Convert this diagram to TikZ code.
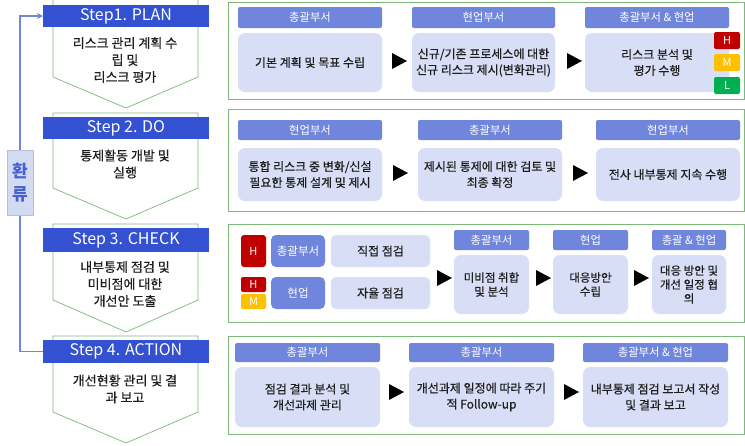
\documentclass[tikz,border=0pt]{standalone}
\usepackage{fontspec}
\setmainfont{Noto Sans CJK KR}
\newfontfamily\krb[FakeBold=0.4]{Noto Sans CJK KR}
\usetikzlibrary{arrows.meta}
\definecolor{hdrL}{HTML}{3451D1}
\definecolor{hdrR}{HTML}{6F86DC}
\definecolor{lite}{HTML}{D7DEF6}
\definecolor{grn}{HTML}{7DB87A}
\definecolor{fb}{HTML}{6F86DC}
\definecolor{fbfill}{HTML}{D3DBF3}
\definecolor{fbline}{HTML}{B8C0D8}
\definecolor{fbtext}{HTML}{4561D3}
\definecolor{hR}{HTML}{C00000}
\definecolor{hM}{HTML}{FFC000}
\definecolor{hL}{HTML}{00B050}
\definecolor{txt}{HTML}{1E1E1E}
\newcommand\mybx[7]{%
  \pgfmathsetmacro\myW{#5-#3}\pgfmathsetmacro\myH{#6-#4}%
  \pgfmathsetmacro\myX{(#3+#5)/2}\pgfmathsetmacro\myY{(#4+#6)/2}%
  \node[#1,minimum width=\myW pt,minimum height=\myH pt] (#2) at (\myX,\myY) {#7};}
\newcommand\mytri[2]{\fill[black] (#1,#2-8) -- (#1+15,#2) -- (#1,#2+8) -- cycle;}
\tikzset{
  base/.style={inner sep=0pt,outer sep=0pt,align=center},
  stephdr/.style={base,fill=hdrL,text=white,font=\fontsize{16}{18}\selectfont},
  steptext/.style={base,text=txt,font=\krb\fontsize{13}{17}\selectfont},
  roleh/.style={base,fill=hdrR,rounded corners=2pt,text=white,font=\fontsize{11.3}{14}\selectfont},
  rolebig/.style={base,fill=hdrR,rounded corners=5pt,text=white,font=\fontsize{11.5}{14}\selectfont},
  content/.style={base,fill=lite,rounded corners=7pt,text=txt,font=\krb\fontsize{12}{16}\selectfont},
  contentn/.style={content,font=\krb\fontsize{11.5}{14}\selectfont},
  badge/.style={base,rounded corners=2pt,text=white,font=\fontsize{11}{13}\selectfont},
  panel/.style={draw=grn,line width=0.9pt},
  pent/.style={draw=grn,line width=0.7pt},
}
\begin{document}
\begin{tikzpicture}[x=1pt,y=-1pt]
\useasboundingbox (0,0) rectangle (745,445);
\fill[white] (0,0) rectangle (745,445);
% ---------- left pentagons ----------
\draw[pent] (53,-2) -- (53,77) -- (126,108) -- (198,77) -- (198,-2);
\draw[pent] (53,113) -- (53,188) -- (126,219) -- (198,188) -- (198,113) -- cycle;
\draw[pent] (53,224) -- (53,300) -- (126,332) -- (198,300) -- (198,224) -- cycle;
\draw[pent] (53,336) -- (53,412) -- (126,443) -- (198,412) -- (198,336) -- cycle;
% ---------- step headers ----------
\mybx{stephdr}{h1}{43}{5}{209}{27}{Step1. PLAN}
\mybx{stephdr}{h2}{43}{117}{209}{139}{Step 2. DO}
\mybx{stephdr}{h3}{43}{228}{209}{252}{Step 3. CHECK}
\mybx{stephdr}{h4}{43}{340}{209}{363}{Step 4. ACTION}
\node[steptext] (t1) at (125,60) {리스크 관리 계획 수\\립 및\\리스크 평가};
\node[steptext] (t2) at (125,164) {통제활동 개발 및\\실행};
\node[steptext] (t3) at (125,284) {내부통제 점검 및\\미비점에 대한\\개선안 도출};
\node[steptext] (t4) at (125,389) {개선현황 관리 및 결\\과 보고};
% ---------- feedback ----------
\draw[fb,line width=1.4pt,-{Stealth[length=6pt,width=6pt]}] (h4.west) -| (20,16) -- (h1.west);
\mybx{base,fill=fbfill,draw=fbline,line width=0.6pt,text=fbtext,font=\fontsize{17}{23}\selectfont\bfseries}{fbk}{7}{150}{33}{215}{환\\류}
% ---------- panel 1 ----------
\draw[panel] (228,2) rectangle (744,99);
\mybx{roleh}{p1a}{238}{7}{382}{28}{총괄부서}
\mybx{roleh}{p1b}{412}{7}{555}{28}{현업부서}
\mybx{roleh}{p1c}{585}{7}{729}{28}{총괄부서 \& 현업}
\mybx{content}{c1a}{238}{33}{382}{92}{기본 계획 및 목표 수립}
\mybx{content}{c1b}{412}{33}{555}{92}{신규/기존 프로세스에 대한\\신규 리스크 제시(변화관리)}
\mybx{content}{c1c}{585}{33}{729}{92}{리스크 분석 및\\평가 수행}
\mybx{badge,fill=hR}{b1h}{714}{32}{740}{49}{H}
\mybx{badge,fill=hM}{b1m}{714}{54}{740}{71}{M}
\mybx{badge,fill=hL}{b1l}{714}{77}{740}{94}{L}
\mytri{392}{61}
\mytri{567}{61}
% ---------- panel 2 ----------
\draw[panel] (228,109) rectangle (744,211);
\mybx{roleh}{p2a}{238}{120}{382}{140}{현업부서}
\mybx{roleh}{p2b}{418}{120}{562}{140}{총괄부서}
\mybx{roleh}{p2c}{596}{120}{740}{140}{현업부서}
\mybx{content}{c2a}{238}{148}{382}{201}{통합 리스크 중 변화/신설\\필요한 통제 설계 및 제시}
\mybx{content}{c2b}{418}{148}{562}{201}{제시된 통제에 대한 검토 및\\최종 확정}
\mybx{content}{c2c}{596}{148}{740}{201}{전사 내부통제 지속 수행}
\mytri{393}{173}
\mytri{573}{173}
% ---------- panel 3 ----------
\draw[panel] (228,224) rectangle (744,322);
\mybx{badge,fill=hR,rounded corners=3pt}{b3h}{241}{235}{266}{267}{H}
\mybx{badge,fill=hR}{b3h2}{241}{277}{266}{292}{H}
\mybx{badge,fill=hM}{b3m}{241}{294}{266}{309}{M}
\mybx{rolebig}{r3a}{271}{235}{325}{267}{총괄부서}
\mybx{rolebig}{r3b}{271}{277}{325}{309}{현업}
\mybx{content,rounded corners=5pt}{c3a}{331}{235}{430}{267}{직접 점검}
\mybx{content,rounded corners=5pt}{c3b}{331}{277}{430}{309}{자율 점검}
\mybx{roleh}{p3a}{454}{230}{529}{250}{총괄부서}
\mybx{roleh}{p3b}{553}{230}{628}{250}{현업}
\mybx{roleh}{p3c}{652}{230}{726}{250}{총괄 \& 현업}
\mybx{contentn}{c3c}{454}{255}{529}{314}{미비점 취합\\및 분석}
\mybx{contentn}{c3d}{553}{255}{628}{314}{대응방안\\수립}
\mybx{contentn}{c3e}{652}{255}{726}{314}{대응 방안 및\\개선 일정 협\\의}
\mytri{437}{278}
\mytri{536}{278}
\mytri{634}{278}
% ---------- panel 4 ----------
\draw[panel] (228,336) rectangle (744,434);
\mybx{roleh}{p4a}{235}{343}{380}{362}{총괄부서}
\mybx{roleh}{p4b}{409}{343}{554}{362}{총괄부서}
\mybx{roleh}{p4c}{583}{343}{728}{362}{총괄부서 \& 현업}
\mybx{content}{c4a}{235}{367}{380}{427}{점검 결과 분석 및\\개선과제 관리}
\mybx{content}{c4b}{409}{367}{554}{427}{개선과제 일정에 따라 주기\\적 Follow-up}
\mybx{content}{c4c}{583}{367}{728}{427}{내부통제 점검 보고서 작성\\및 결과 보고}
\mytri{389}{392}
\mytri{564}{392}
\end{tikzpicture}
\end{document}
